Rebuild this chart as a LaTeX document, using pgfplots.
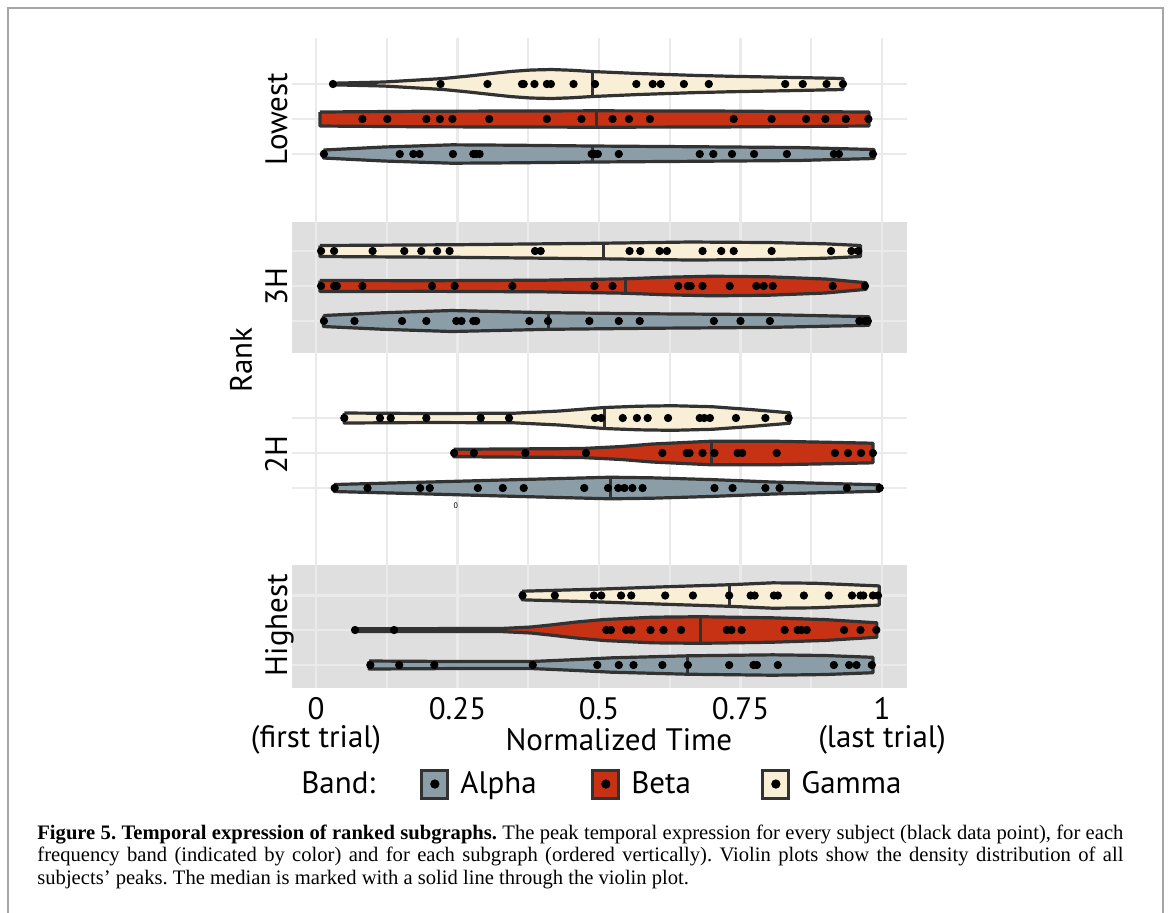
\documentclass[border=0pt]{standalone}
\usepackage{fontspec}
\setmainfont{PT Sans}
\newfontfamily\capfont{Liberation Serif}
\usepackage{pgfplots}
\pgfplotsset{compat=1.18}
\usepackage{pgfplotstable}

\definecolor{alphac}{RGB}{139,158,167}
\definecolor{betac}{RGB}{199,49,20}
\definecolor{gammac}{RGB}{249,239,214}
\definecolor{outl}{RGB}{50,50,50}
\definecolor{panelc}{RGB}{223,223,223}
\definecolor{gridc}{RGB}{234,234,234}
\definecolor{framec}{RGB}{166,166,166}

\newcommand{\plotfont}{\fontsize{15.5}{14}\selectfont}
\newcommand{\capsize}{\capfont\fontsize{10.3}{11}\selectfont\frenchspacing}

% violin outlines: t = normalized time, s = offset from the row (pixels of the original),
% along the upper edge and back along the lower edge
\pgfplotstableread{
t s
0.030 -0.8
0.12 -2.0
0.225 -5.5
0.27 -8.0
0.31 -10.5
0.345 -12.6
0.38 -14.0
0.416 -14.5
0.45 -13.8
0.488 -12.5
0.57 -10.5
0.664 -8.7
0.735 -7.7
0.85 -6.5
0.931 -5.5
0.931 5.5
0.85 6.5
0.735 7.7
0.664 8.7
0.57 10.5
0.488 12.5
0.45 13.8
0.416 14.5
0.38 14.0
0.345 12.6
0.31 10.5
0.27 8.0
0.225 5.5
0.12 2.0
0.030 0.8
0.030 -0.8
}\lowgam
\pgfplotstableread{
t s
0.007 -7.0
0.2 -7.8
0.495 -8.2
0.7 -8.0
0.977 -7.0
0.977 7.0
0.7 8.0
0.495 8.2
0.2 7.8
0.007 7.0
0.007 -7.0
}\lowbet
\pgfplotstableread{
t s
0.013 -4.0
0.12 -7.0
0.24 -9.2
0.35 -8.8
0.489 -8.0
0.664 -7.3
0.85 -6.5
0.986 -4.5
0.986 4.5
0.85 6.5
0.664 7.3
0.489 8.0
0.35 8.8
0.24 9.2
0.12 7.0
0.013 4.0
0.013 -4.0
}\lowalp
\pgfplotstableread{
t s
0.007 -5.5
0.25 -6.3
0.508 -7.8
0.66 -9.0
0.8 -8.5
0.9 -7.2
0.962 -5.5
0.962 5.5
0.9 7.2
0.8 8.5
0.66 9.0
0.508 7.8
0.25 6.3
0.007 5.5
0.007 -5.5
}\thrgam
\pgfplotstableread{
t s
0.007 -5.5
0.2 -5.3
0.4 -5.8
0.546 -7.2
0.62 -8.8
0.70 -9.8
0.8 -9.2
0.9 -7.0
0.972 -3.3
0.972 3.3
0.9 7.0
0.8 9.2
0.70 9.8
0.62 8.8
0.546 7.2
0.4 5.8
0.2 5.3
0.007 5.5
0.007 -5.5
}\thrbet
\pgfplotstableread{
t s
0.013 -5.5
0.12 -8.3
0.24 -10.5
0.41 -8.3
0.6 -7.2
0.8 -6.4
0.977 -4.3
0.977 4.3
0.8 6.4
0.6 7.2
0.41 8.3
0.24 10.5
0.12 8.3
0.013 5.5
0.013 -5.5
}\thralp
\pgfplotstableread{
t s
0.050 -5.0
0.2 -4.5
0.35 -4.8
0.43 -7.0
0.509 -10.5
0.57 -11.8
0.63 -12.3
0.70 -11.3
0.77 -8.4
0.837 -5.2
0.837 5.2
0.77 8.4
0.70 11.3
0.63 12.3
0.57 11.8
0.509 10.5
0.43 7.0
0.35 4.8
0.2 4.5
0.050 5.0
0.050 -5.0
}\twogam
\pgfplotstableread{
t s
0.243 -3.7
0.47 -4.5
0.54 -6.5
0.594 -9.0
0.699 -11.8
0.807 -11.8
0.9 -10.8
0.984 -9.8
0.984 9.8
0.9 10.8
0.807 11.8
0.699 11.8
0.594 9.0
0.54 6.5
0.47 4.5
0.243 3.7
0.243 -3.7
}\twobet
\pgfplotstableread{
t s
0.032 -3.5
0.2 -6.0
0.35 -8.3
0.52 -10.8
0.594 -10.2
0.70 -8.4
0.807 -6.0
0.996 -3.2
0.996 3.2
0.807 6.0
0.70 8.4
0.594 10.2
0.52 10.8
0.35 8.3
0.2 6.0
0.032 3.5
0.032 -3.5
}\twoalp
\pgfplotstableread{
t s
0.364 -4.3
0.5 -6.4
0.62 -8.8
0.731 -10.8
0.807 -12.7
0.88 -12.3
0.995 -9.6
0.995 9.6
0.88 12.3
0.807 12.7
0.731 10.8
0.62 8.8
0.5 6.4
0.364 4.3
0.364 -4.3
}\higam
\pgfplotstableread{
t s
0.070 -1.4
0.2 -1.4
0.33 -1.6
0.38 -3.0
0.417 -5.2
0.46 -8.0
0.509 -10.5
0.594 -12.8
0.679 -13.3
0.807 -12.2
0.9 -10.4
0.991 -7.2
0.991 7.2
0.9 10.4
0.807 12.2
0.679 13.3
0.594 12.8
0.509 10.5
0.46 8.0
0.417 5.2
0.38 3.0
0.33 1.6
0.2 1.4
0.070 1.4
0.070 -1.4
}\hibet
\pgfplotstableread{
t s
0.094 -4.0
0.25 -3.5
0.38 -3.5
0.45 -5.2
0.523 -7.2
0.656 -9.2
0.807 -10.2
0.9 -9.5
0.984 -7.7
0.984 7.7
0.9 9.5
0.807 10.2
0.656 9.2
0.523 7.2
0.45 5.2
0.38 3.5
0.25 3.5
0.094 4.0
0.094 -4.0
}\hialp

% #1 row position, #2 outline table, #3 fill colour
\newcommand{\violin}[3]{%
  \addplot[fill=#3, draw=outl, line width=1.6pt, line join=round, forget plot]
    table[x=t, y expr=#1+\thisrow{s}] {#2};
}
\newcommand{\bandkey}[1]{\addlegendimage{legend image code/.code={%
  \draw[fill=#1, draw=outl, line width=1.5pt] (0.75pt,-7pt) rectangle (13.75pt,7pt);
  \fill[black] (7.25pt,0pt) circle (2.1pt);}}}

\begin{document}
\begin{tikzpicture}
\path[use as bounding box] (0,0) rectangle (584pt,-456pt);
\draw[framec, line width=1pt] (4.2pt,-480pt) -- (4.2pt,-4.2pt) -- (581.5pt,-4.2pt) -- (581.5pt,-480pt);

\begin{axis}[
  at={(146pt,-344pt)}, anchor=south west,
  scale only axis, width=307.5pt, height=325pt,
  xmin=-0.0424, xmax=1.0442, ymin=38, ymax=688, y dir=reverse,
  clip=false,
  axis line style={draw=none},
  major tick length=0pt,
  xtick={0,0.25,0.5,0.75,1},
  xticklabels={{0\\(first trial)},0.25,0.5,0.75,{1\\(last trial)}},
  xticklabel style={align=center, inner sep=0pt, font=\plotfont, yshift=-4.5pt},
  ytick=\empty,
  legend style={
    at={(axis description cs:-0.0033,-0.1477)}, anchor=west,
    draw=none, fill=none, inner xsep=0pt, inner ysep=0pt,
    legend columns=4, font=\plotfont,
    nodes={inner xsep=5.5pt, inner ysep=0pt},
    cells={anchor=west},
  },
  gridline/.style={draw=gridc, line width=1.4pt, forget plot},
  minorline/.style={draw=gridc, line width=1pt, forget plot},
  peak/.style={only marks, mark=*, mark size=1.85pt, black, forget plot},
  median/.style={draw=outl, line width=1.5pt, forget plot},
]

% shaded facets (3H and Highest)
\addplot[fill=panelc, draw=none, forget plot]
  coordinates {(-0.0424,221.5) (1.0442,221.5) (1.0442,353.3) (-0.0424,353.3)};
\addplot[fill=panelc, draw=none, forget plot]
  coordinates {(-0.0424,565) (1.0442,565) (1.0442,688) (-0.0424,688)};

% grid
\addplot[minorline] coordinates {(0.125,38) (0.125,688)};
\addplot[minorline] coordinates {(0.375,38) (0.375,688)};
\addplot[minorline] coordinates {(0.625,38) (0.625,688)};
\addplot[minorline] coordinates {(0.875,38) (0.875,688)};
\addplot[gridline] coordinates {(0,38) (0,688)};
\addplot[gridline] coordinates {(0.25,38) (0.25,688)};
\addplot[gridline] coordinates {(0.5,38) (0.5,688)};
\addplot[gridline] coordinates {(0.75,38) (0.75,688)};
\addplot[gridline] coordinates {(1,38) (1,688)};
\addplot[gridline] coordinates {(-0.0424,84) (1.0442,84)};
\addplot[gridline] coordinates {(-0.0424,119) (1.0442,119)};
\addplot[gridline] coordinates {(-0.0424,154) (1.0442,154)};
\addplot[gridline] coordinates {(-0.0424,251) (1.0442,251)};
\addplot[gridline] coordinates {(-0.0424,286) (1.0442,286)};
\addplot[gridline] coordinates {(-0.0424,321) (1.0442,321)};
\addplot[gridline] coordinates {(-0.0424,418) (1.0442,418)};
\addplot[gridline] coordinates {(-0.0424,453) (1.0442,453)};
\addplot[gridline] coordinates {(-0.0424,488) (1.0442,488)};
\addplot[gridline] coordinates {(-0.0424,595.5) (1.0442,595.5)};
\addplot[gridline] coordinates {(-0.0424,630) (1.0442,630)};
\addplot[gridline] coordinates {(-0.0424,665) (1.0442,665)};

% violins: Lowest, 3H, 2H, Highest (Gamma, Beta, Alpha from top)
\violin{84}{\lowgam}{gammac}
\violin{119}{\lowbet}{betac}
\violin{154}{\lowalp}{alphac}
\violin{251}{\thrgam}{gammac}
\violin{286}{\thrbet}{betac}
\violin{321}{\thralp}{alphac}
\violin{418}{\twogam}{gammac}
\violin{453}{\twobet}{betac}
\violin{488}{\twoalp}{alphac}
\violin{595.5}{\higam}{gammac}
\violin{630}{\hibet}{betac}
\violin{665}{\hialp}{alphac}

% medians
\addplot[median] coordinates {(0.488,71.5) (0.488,96.5)};
\addplot[median] coordinates {(0.495,110.8) (0.495,127.2)};
\addplot[median] coordinates {(0.489,146) (0.489,162)};
\addplot[median] coordinates {(0.508,243.2) (0.508,258.8)};
\addplot[median] coordinates {(0.546,278.8) (0.546,293.2)};
\addplot[median] coordinates {(0.410,312.7) (0.410,329.3)};
\addplot[median] coordinates {(0.509,407.5) (0.509,428.5)};
\addplot[median] coordinates {(0.699,441.2) (0.699,464.8)};
\addplot[median] coordinates {(0.520,477.2) (0.520,498.8)};
\addplot[median] coordinates {(0.731,584.7) (0.731,606.3)};
\addplot[median] coordinates {(0.679,616.7) (0.679,643.3)};
\addplot[median] coordinates {(0.656,655.8) (0.656,674.2)};

% subjects' peaks
\addplot[peak] coordinates {(0.030,84) (0.220,84) (0.303,84) (0.364,84) (0.367,84) (0.386,84) (0.408,84) (0.415,84) (0.455,84) (0.493,84) (0.566,84) (0.595,84) (0.609,84) (0.650,84) (0.694,84) (0.829,84) (0.860,84) (0.902,84) (0.931,84)};
\addplot[peak] coordinates {(0.082,119) (0.126,119) (0.195,119) (0.219,119) (0.241,119) (0.306,119) (0.408,119) (0.469,119) (0.524,119) (0.553,119) (0.590,119) (0.738,119) (0.805,119) (0.866,119) (0.900,119) (0.936,119) (0.976,119)};
\addplot[peak] coordinates {(0.014,154) (0.148,154) (0.172,154) (0.183,154) (0.242,154) (0.278,154) (0.283,154) (0.289,154) (0.487,154) (0.492,154) (0.498,154) (0.535,154) (0.678,154) (0.702,154) (0.735,154) (0.774,154) (0.832,154) (0.915,154) (0.924,154) (0.984,154)};
\addplot[peak] coordinates {(0.009,251) (0.032,251) (0.100,251) (0.156,251) (0.186,251) (0.214,251) (0.236,251) (0.387,251) (0.397,251) (0.554,251) (0.573,251) (0.607,251) (0.620,251) (0.683,251) (0.716,251) (0.738,251) (0.805,251) (0.910,251) (0.946,251) (0.958,251)};
\addplot[peak] coordinates {(0.009,286) (0.032,286) (0.037,286) (0.082,286) (0.205,286) (0.245,286) (0.347,286) (0.492,286) (0.524,286) (0.640,286) (0.657,286) (0.662,286) (0.683,286) (0.731,286) (0.778,286) (0.791,286) (0.807,286) (0.913,286) (0.970,286)};
\addplot[peak] coordinates {(0.014,321) (0.068,321) (0.152,321) (0.195,321) (0.248,321) (0.257,321) (0.278,321) (0.283,321) (0.377,321) (0.410,321) (0.483,321) (0.535,321) (0.572,321) (0.703,321) (0.750,321) (0.802,321) (0.960,321) (0.970,321) (0.975,321)};
\addplot[peak] coordinates {(0.050,418) (0.113,418) (0.132,418) (0.195,418) (0.291,418) (0.341,418) (0.493,418) (0.504,418) (0.542,418) (0.567,418) (0.586,418) (0.622,418) (0.678,418) (0.686,418) (0.696,418) (0.742,418) (0.794,418) (0.835,418)};
\addplot[peak] coordinates {(0.244,453) (0.279,453) (0.370,453) (0.477,453) (0.612,453) (0.655,453) (0.660,453) (0.683,453) (0.704,453) (0.745,453) (0.753,453) (0.814,453) (0.917,453) (0.940,453) (0.963,453) (0.984,453)};
\addplot[peak] coordinates {(0.033,488) (0.091,488) (0.184,488) (0.201,488) (0.286,488) (0.330,488) (0.367,488) (0.474,488) (0.516,488) (0.534,488) (0.545,488) (0.559,488) (0.577,488) (0.704,488) (0.736,488) (0.794,488) (0.819,488) (0.938,488) (0.996,488)};
\addplot[peak] coordinates {(0.365,595.5) (0.422,595.5) (0.491,595.5) (0.504,595.5) (0.539,595.5) (0.557,595.5) (0.617,595.5) (0.666,595.5) (0.730,595.5) (0.768,595.5) (0.775,595.5) (0.809,595.5) (0.816,595.5) (0.862,595.5) (0.906,595.5) (0.947,595.5) (0.962,595.5) (0.967,595.5) (0.984,595.5) (0.993,595.5)};
\addplot[peak] coordinates {(0.069,630) (0.138,630) (0.513,630) (0.521,630) (0.548,630) (0.557,630) (0.591,630) (0.614,630) (0.645,630) (0.726,630) (0.734,630) (0.752,630) (0.828,630) (0.851,630) (0.858,630) (0.867,630) (0.933,630) (0.962,630) (0.990,630)};
\addplot[peak] coordinates {(0.096,665) (0.147,665) (0.209,665) (0.383,665) (0.497,665) (0.535,665) (0.561,665) (0.612,665) (0.657,665) (0.730,665) (0.773,665) (0.779,665) (0.816,665) (0.915,665) (0.942,665) (0.955,665) (0.982,665)};

% legend
\addlegendimage{empty legend}
\addlegendentry{\makebox[54pt][l]{Band:}}
\bandkey{alphac}
\addlegendentry{\makebox[60pt][l]{Alpha}}
\bandkey{betac}
\addlegendentry{\makebox[59.5pt][l]{Beta}}
\bandkey{gammac}
\addlegendentry{Gamma}

% facet strips and titles
\node[rotate=90, anchor=base, font=\plotfont] at (axis cs:-0.0512,119) {Lowest};
\node[rotate=90, anchor=base, font=\plotfont] at (axis cs:-0.0512,287) {3H};
\node[rotate=90, anchor=base, font=\plotfont] at (axis cs:-0.0512,455) {2H};
\node[rotate=90, anchor=base, font=\plotfont] at (axis cs:-0.0512,625) {Highest};
\node[rotate=90, anchor=base, font=\plotfont] at (axis cs:-0.1131,360) {Rank};
\node[anchor=base, font=\plotfont] at (axis cs:0.535,750) {Normalized Time};
\node[font=\fontsize{4}{4}\selectfont, inner sep=0pt] at (axis cs:0.247,506) {0};
\end{axis}

\node[anchor=base west, inner sep=0pt, font=\capsize] at (18.5pt,-419.6pt)
  {\hbox to 543pt{\textbf{Figure 5. Temporal expression of ranked subgraphs.} The peak temporal expression for every subject (black data point), for each}};
\node[anchor=base west, inner sep=0pt, font=\capsize] at (18.5pt,-430.8pt)
  {\hbox to 543pt{frequency band (indicated by color) and for each subgraph (ordered vertically). Violin plots show the density distribution of all}};
\node[anchor=base west, inner sep=0pt, font=\capsize] at (18.5pt,-442pt)
  {subjects’ peaks. The median is marked with a solid line through the violin plot.};
\end{tikzpicture}
\end{document}
